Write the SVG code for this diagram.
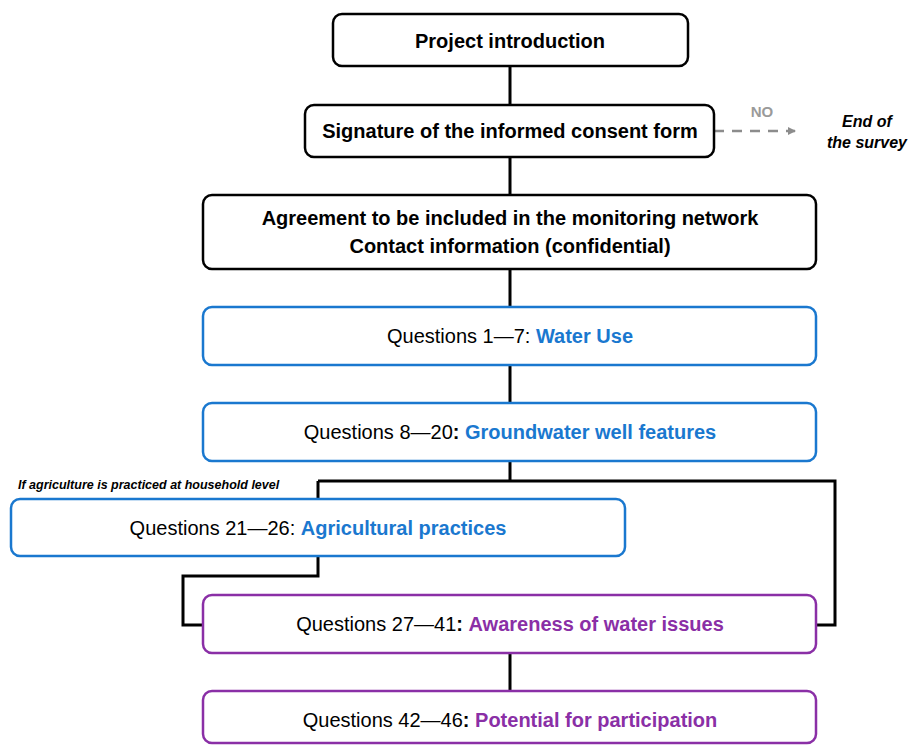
<svg xmlns="http://www.w3.org/2000/svg" width="910" height="746" viewBox="0 0 910 746">
<defs>
<style>
.bk{fill:#fff;stroke:#000;stroke-width:2.5}
.bl{fill:#fff;stroke:#1a78cf;stroke-width:2.5}
.pu{fill:#fff;stroke:#8a2fa6;stroke-width:2.5}
text{font-family:"Liberation Sans",Arial,sans-serif;font-size:20px;fill:#000}
.b{font-weight:bold}
.tb{fill:#1a78cf;font-weight:bold}
.tp{fill:#8a2fa6;font-weight:bold}
.c{fill:none;stroke:#000;stroke-width:3}
</style>
<marker id="ah" markerWidth="8" markerHeight="8" refX="7" refY="4" orient="auto" markerUnits="userSpaceOnUse">
<path d="M0,0 L8,4 L0,8 Z" fill="#8c8c8c"/>
</marker>
</defs>
<rect width="910" height="746" fill="#fff"/>
<g id="connectors">
<path class="c" d="M510,66 V105 M510,157 V195 M510,269 V307 M510,365 V403 M510,461 V481 M318,481 H835 V625 H816 M318,481 V499 M318,556 V576 H183 V625 H203 M510,653 V691"/>
<line x1="714" y1="131" x2="795" y2="131" stroke="#8c8c8c" stroke-width="2.5" stroke-dasharray="10,8" marker-end="url(#ah)"/>
<text x="762" y="117" text-anchor="middle" class="b" style="font-size:15px;fill:#9a9a9a">NO</text>
</g>
<g id="end">
<text x="867" y="127" text-anchor="middle" class="b" style="font-style:italic;font-size:16px">End of</text>
<text x="867" y="148" text-anchor="middle" class="b" style="font-style:italic;font-size:16px">the survey</text>
</g>
<g id="n1"><rect class="bk" x="333" y="14" width="355" height="52" rx="9"/><text x="510" y="48" text-anchor="middle" class="b">Project introduction</text></g>
<g id="n2"><rect class="bk" x="305" y="105" width="409" height="52" rx="9"/><text x="510" y="138" text-anchor="middle" class="b">Signature of the informed consent form</text></g>
<g id="n3"><rect class="bk" x="203" y="195" width="613" height="74" rx="9"/><text x="510" y="225" text-anchor="middle" class="b">Agreement to be included in the monitoring network</text><text x="510" y="253" text-anchor="middle" class="b">Contact information (confidential)</text></g>
<g id="n4"><rect class="bl" x="203" y="307" width="613" height="58" rx="9"/><text x="510" y="343" text-anchor="middle">Questions 1—7: <tspan class="tb">Water Use</tspan></text></g>
<g id="n5"><rect class="bl" x="203" y="403" width="613" height="58" rx="9"/><text x="510" y="439" text-anchor="middle">Questions 8—20<tspan class="b">:</tspan> <tspan class="tb">Groundwater well features</tspan></text></g>
<g id="n6"><rect class="bl" x="11" y="499" width="614" height="57" rx="9"/><text x="318" y="535" text-anchor="middle">Questions 21—26: <tspan class="tb">Agricultural practices</tspan></text>
<text x="18" y="489" class="b" style="font-style:italic;font-size:12.5px">If agriculture is practiced at household level</text></g>
<g id="n7"><rect class="pu" x="203" y="595" width="613" height="58" rx="9"/><text x="510" y="631" text-anchor="middle">Questions 27—41<tspan class="b">:</tspan> <tspan class="tp">Awareness of water issues</tspan></text></g>
<g id="n8"><rect class="pu" x="203" y="691" width="613" height="52" rx="9"/><text x="510" y="727" text-anchor="middle">Questions 42—46<tspan class="b">:</tspan> <tspan class="tp">Potential for participation</tspan></text></g>
</svg>
